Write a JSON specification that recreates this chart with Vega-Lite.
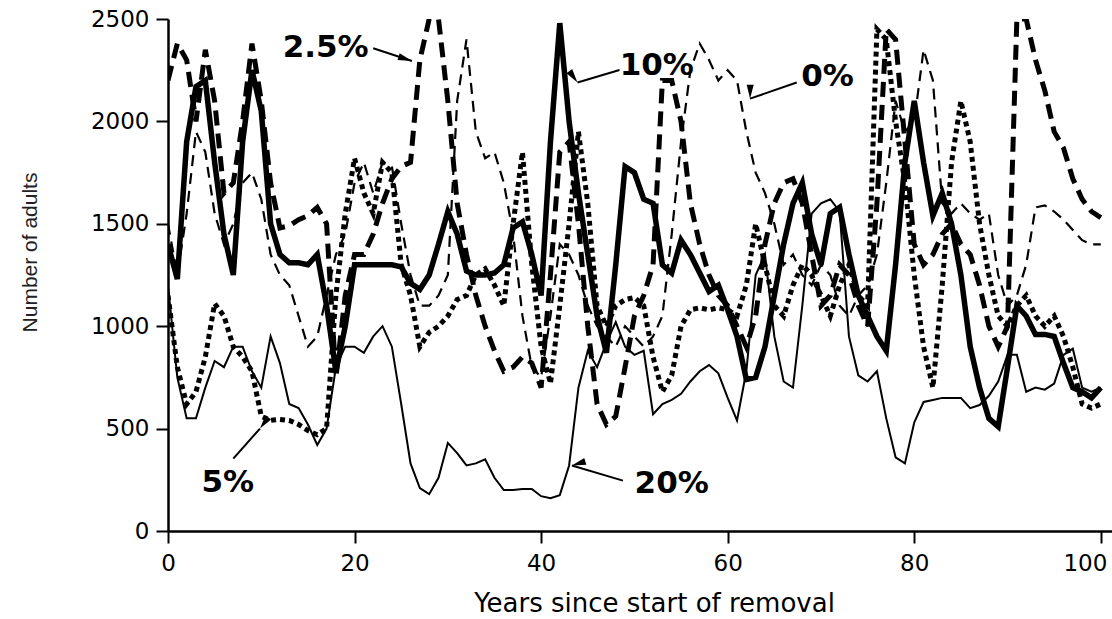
{
  "$schema": "https://vega.github.io/schema/vega-lite/v6.json",
  "width": 944,
  "height": 512,
  "autosize": {"type": "none"},
  "padding": {"left": 168, "top": 19, "right": 0, "bottom": 88},
  "background": "white",
  "config": {"view": {"stroke": null}, "font": "DejaVu Sans"},
  "datasets": {
    "runs": [
      {"yr":0,"r0":1500,"r25":2200,"r5":1150,"r10":1400,"r20":1200},
      {"yr":1,"r0":1250,"r25":2380,"r5":800,"r10":1230,"r20":750},
      {"yr":2,"r0":1550,"r25":2300,"r5":620,"r10":1900,"r20":550},
      {"yr":3,"r0":1950,"r25":2000,"r5":680,"r10":2170,"r20":550},
      {"yr":4,"r0":1850,"r25":2350,"r5":850,"r10":2200,"r20":700},
      {"yr":5,"r0":1550,"r25":2100,"r5":1110,"r10":1800,"r20":830},
      {"yr":6,"r0":1400,"r25":1650,"r5":1050,"r10":1450,"r20":800},
      {"yr":7,"r0":1500,"r25":1700,"r5":900,"r10":1250,"r20":900},
      {"yr":8,"r0":1700,"r25":2000,"r5":850,"r10":1900,"r20":900},
      {"yr":9,"r0":1750,"r25":2380,"r5":780,"r10":2250,"r20":780},
      {"yr":10,"r0":1620,"r25":2100,"r5":560,"r10":2050,"r20":700},
      {"yr":11,"r0":1350,"r25":1700,"r5":540,"r10":1500,"r20":950},
      {"yr":12,"r0":1250,"r25":1480,"r5":545,"r10":1350,"r20":820},
      {"yr":13,"r0":1200,"r25":1490,"r5":540,"r10":1310,"r20":620},
      {"yr":14,"r0":1050,"r25":1520,"r5":520,"r10":1310,"r20":600},
      {"yr":15,"r0":900,"r25":1540,"r5":490,"r10":1300,"r20":520},
      {"yr":16,"r0":950,"r25":1580,"r5":470,"r10":1350,"r20":420},
      {"yr":17,"r0":1150,"r25":1500,"r5":500,"r10":1100,"r20":500},
      {"yr":18,"r0":1350,"r25":750,"r5":1150,"r10":780,"r20":800},
      {"yr":19,"r0":1450,"r25":1150,"r5":1550,"r10":1000,"r20":900},
      {"yr":20,"r0":1700,"r25":1350,"r5":1820,"r10":1300,"r20":900},
      {"yr":21,"r0":1800,"r25":1350,"r5":1650,"r10":1300,"r20":870},
      {"yr":22,"r0":1650,"r25":1450,"r5":1550,"r10":1300,"r20":950},
      {"yr":23,"r0":1800,"r25":1600,"r5":1800,"r10":1300,"r20":1000},
      {"yr":24,"r0":1780,"r25":1720,"r5":1750,"r10":1300,"r20":900},
      {"yr":25,"r0":1500,"r25":1780,"r5":1300,"r10":1290,"r20":620},
      {"yr":26,"r0":1250,"r25":1800,"r5":1150,"r10":1210,"r20":330},
      {"yr":27,"r0":1100,"r25":2300,"r5":900,"r10":1180,"r20":210},
      {"yr":28,"r0":1100,"r25":2500,"r5":970,"r10":1250,"r20":180},
      {"yr":29,"r0":1150,"r25":2500,"r5":1000,"r10":1400,"r20":260},
      {"yr":30,"r0":1250,"r25":2100,"r5":1050,"r10":1560,"r20":430},
      {"yr":31,"r0":2100,"r25":1600,"r5":1130,"r10":1450,"r20":380},
      {"yr":32,"r0":2400,"r25":1350,"r5":1150,"r10":1270,"r20":320},
      {"yr":33,"r0":1950,"r25":1150,"r5":1250,"r10":1250,"r20":330},
      {"yr":34,"r0":1820,"r25":1000,"r5":1280,"r10":1250,"r20":350},
      {"yr":35,"r0":1850,"r25":880,"r5":1200,"r10":1260,"r20":260},
      {"yr":36,"r0":1700,"r25":780,"r5":1100,"r10":1300,"r20":200},
      {"yr":37,"r0":1450,"r25":800,"r5":1500,"r10":1480,"r20":200},
      {"yr":38,"r0":1050,"r25":850,"r5":1850,"r10":1510,"r20":205},
      {"yr":39,"r0":800,"r25":820,"r5":1300,"r10":1350,"r20":205},
      {"yr":40,"r0":750,"r25":700,"r5":900,"r10":1150,"r20":170},
      {"yr":41,"r0":1050,"r25":1250,"r5":720,"r10":1900,"r20":160},
      {"yr":42,"r0":1400,"r25":1850,"r5":1100,"r10":2480,"r20":175},
      {"yr":43,"r0":1350,"r25":1900,"r5":1500,"r10":2000,"r20":320},
      {"yr":44,"r0":1250,"r25":1500,"r5":1950,"r10":1650,"r20":700},
      {"yr":45,"r0":1100,"r25":1000,"r5":1600,"r10":1350,"r20":880},
      {"yr":46,"r0":1000,"r25":620,"r5":1100,"r10":1050,"r20":800},
      {"yr":47,"r0":950,"r25":520,"r5":1000,"r10":870,"r20":920},
      {"yr":48,"r0":900,"r25":560,"r5":1100,"r10":1300,"r20":1020},
      {"yr":49,"r0":1000,"r25":800,"r5":1130,"r10":1780,"r20":900},
      {"yr":50,"r0":950,"r25":1050,"r5":1140,"r10":1750,"r20":860},
      {"yr":51,"r0":900,"r25":1150,"r5":1100,"r10":1620,"r20":880},
      {"yr":52,"r0":950,"r25":1300,"r5":850,"r10":1600,"r20":570},
      {"yr":53,"r0":1050,"r25":2200,"r5":680,"r10":1300,"r20":620},
      {"yr":54,"r0":1450,"r25":2200,"r5":760,"r10":1260,"r20":640},
      {"yr":55,"r0":1900,"r25":2000,"r5":1000,"r10":1420,"r20":670},
      {"yr":56,"r0":2250,"r25":1600,"r5":1080,"r10":1350,"r20":730},
      {"yr":57,"r0":2380,"r25":1400,"r5":1090,"r10":1260,"r20":780},
      {"yr":58,"r0":2300,"r25":1250,"r5":1080,"r10":1170,"r20":810},
      {"yr":59,"r0":2200,"r25":1150,"r5":1090,"r10":1200,"r20":770},
      {"yr":60,"r0":2250,"r25":1100,"r5":1080,"r10":1080,"r20":650},
      {"yr":61,"r0":2200,"r25":1000,"r5":1050,"r10":950,"r20":540},
      {"yr":62,"r0":1950,"r25":900,"r5":1200,"r10":740,"r20":780},
      {"yr":63,"r0":1750,"r25":1050,"r5":1500,"r10":750,"r20":1250},
      {"yr":64,"r0":1650,"r25":1400,"r5":1300,"r10":900,"r20":1350},
      {"yr":65,"r0":1500,"r25":1600,"r5":1100,"r10":1150,"r20":950},
      {"yr":66,"r0":1300,"r25":1700,"r5":1050,"r10":1400,"r20":730},
      {"yr":67,"r0":1350,"r25":1720,"r5":1200,"r10":1600,"r20":700},
      {"yr":68,"r0":1250,"r25":1600,"r5":1300,"r10":1700,"r20":1100},
      {"yr":69,"r0":1200,"r25":1350,"r5":1250,"r10":1450,"r20":1550},
      {"yr":70,"r0":1300,"r25":1100,"r5":1150,"r10":1300,"r20":1600},
      {"yr":71,"r0":1250,"r25":1150,"r5":1050,"r10":1550,"r20":1620},
      {"yr":72,"r0":1100,"r25":1300,"r5":1200,"r10":1580,"r20":1560},
      {"yr":73,"r0":1050,"r25":1250,"r5":1300,"r10":1350,"r20":950},
      {"yr":74,"r0":1150,"r25":1100,"r5":1150,"r10":1150,"r20":760},
      {"yr":75,"r0":1200,"r25":1000,"r5":1100,"r10":1050,"r20":730},
      {"yr":76,"r0":1350,"r25":1600,"r5":2450,"r10":950,"r20":780},
      {"yr":77,"r0":1700,"r25":2450,"r5":2400,"r10":880,"r20":550},
      {"yr":78,"r0":2100,"r25":2400,"r5":2000,"r10":1300,"r20":360},
      {"yr":79,"r0":1950,"r25":1900,"r5":1700,"r10":1800,"r20":330},
      {"yr":80,"r0":2000,"r25":1400,"r5":1250,"r10":2100,"r20":530},
      {"yr":81,"r0":2350,"r25":1300,"r5":900,"r10":1800,"r20":630},
      {"yr":82,"r0":2200,"r25":1350,"r5":700,"r10":1540,"r20":640},
      {"yr":83,"r0":1600,"r25":1450,"r5":1200,"r10":1650,"r20":650},
      {"yr":84,"r0":1550,"r25":1500,"r5":1800,"r10":1500,"r20":650},
      {"yr":85,"r0":1600,"r25":1400,"r5":2100,"r10":1250,"r20":650},
      {"yr":86,"r0":1550,"r25":1350,"r5":1900,"r10":900,"r20":600},
      {"yr":87,"r0":1520,"r25":1200,"r5":1500,"r10":700,"r20":615},
      {"yr":88,"r0":1550,"r25":1000,"r5":1250,"r10":550,"r20":660},
      {"yr":89,"r0":1250,"r25":900,"r5":1050,"r10":510,"r20":730},
      {"yr":90,"r0":1100,"r25":1000,"r5":1000,"r10":800,"r20":860},
      {"yr":91,"r0":1150,"r25":2500,"r5":1100,"r10":1100,"r20":860},
      {"yr":92,"r0":1300,"r25":2500,"r5":1150,"r10":1050,"r20":680},
      {"yr":93,"r0":1580,"r25":2300,"r5":1050,"r10":960,"r20":700},
      {"yr":94,"r0":1590,"r25":2150,"r5":1000,"r10":960,"r20":690},
      {"yr":95,"r0":1560,"r25":1950,"r5":1050,"r10":950,"r20":720},
      {"yr":96,"r0":1520,"r25":1870,"r5":950,"r10":820,"r20":860},
      {"yr":97,"r0":1470,"r25":1720,"r5":800,"r10":700,"r20":890},
      {"yr":98,"r0":1420,"r25":1620,"r5":620,"r10":680,"r20":700},
      {"yr":99,"r0":1400,"r25":1560,"r5":600,"r10":650,"r20":680},
      {"yr":100,"r0":1400,"r25":1530,"r5":620,"r10":700,"r20":700}
    ],
    "labels": [
      {"label":"2.5%","yr":16.9,"v":2357},
      {"label":"10%","yr":52.4,"v":2269},
      {"label":"0%","yr":70.7,"v":2215},
      {"label":"5%","yr":6.4,"v":236},
      {"label":"20%","yr":54.0,"v":231}
    ],
    "arrows": [
      {"label":"2.5%","yr":26.15,"v":2295,"yr2":22.0,"v2":2357},
      {"label":"10%","yr":43.9,"v":2190,"yr2":48.4,"v2":2251},
      {"label":"0%","yr":62.4,"v":2111,"yr2":67.4,"v2":2190},
      {"label":"5%","yr":9.86,"v":500,"yr2":7.0,"v2":353},
      {"label":"20%","yr":43.3,"v":320,"yr2":48.77,"v2":246}
    ]
  },
  "encoding": {
    "x": {
      "field": "yr", "type": "quantitative",
      "scale": {"domain": [0, 101.2], "nice": false, "zero": false},
      "axis": {
        "values": [0, 20, 40, 60, 80, 100], "format": "d",
        "title": "Years since start of removal",
        "grid": false, "tickSize": 12, "tickWidth": 2, "tickColor": "black",
        "domainColor": "black", "domainWidth": 2.5,
        "labelFont": "DejaVu Sans", "labelFontSize": 23, "labelColor": "black", "labelPadding": 9,
        "labelFlush": false, "labelOverlap": false,
        "labelAlign": {"condition": {"test": "datum.value >= 100", "value": "right"}, "value": "center"},
        "labelOffset": {"condition": {"test": "datum.value >= 100", "value": 6}, "value": 0},
        "titleFont": "DejaVu Sans", "titleFontSize": 26, "titleFontWeight": "normal", "titleColor": "black",
        "titleX": 486, "titleY": 72, "titleBaseline": "middle", "titleAlign": "center"
      }
    },
    "y": {
      "field": "v", "type": "quantitative",
      "scale": {"domain": [0, 2500], "nice": false, "zero": false},
      "axis": {
        "values": [0, 500, 1000, 1500, 2000, 2500], "format": "d",
        "title": "Number of adults",
        "grid": false, "tickSize": 12, "tickWidth": 2, "tickColor": "black",
        "domainColor": "black", "domainWidth": 2.5,
        "labelFont": "DejaVu Sans", "labelFontSize": 23, "labelColor": "black", "labelPadding": 7,
        "labelFlush": false, "labelOverlap": false,
        "titleFont": "Liberation Sans", "titleFontSize": 21, "titleFontWeight": "normal", "titleColor": "#222",
        "titleX": -138, "titleY": 233, "titleAngle": 270, "titleBaseline": "middle", "titleAlign": "center"
      }
    }
  },
  "layer": [
    {
      "data": {"name": "runs"},
      "transform": [{"fold": ["r0"], "as": ["s", "v"]}],
      "mark": {"type": "line", "color": "black", "strokeWidth": 2.2, "strokeDash": [11, 7], "clip": true}
    },
    {
      "data": {"name": "runs"},
      "transform": [{"fold": ["r25"], "as": ["s", "v"]}],
      "mark": {"type": "line", "color": "black", "strokeWidth": 5, "strokeDash": [15, 8], "clip": true}
    },
    {
      "data": {"name": "runs"},
      "transform": [{"fold": ["r5"], "as": ["s", "v"]}],
      "mark": {"type": "line", "color": "black", "strokeWidth": 5, "strokeDash": [5, 4], "clip": true}
    },
    {
      "data": {"name": "runs"},
      "transform": [{"fold": ["r10"], "as": ["s", "v"]}],
      "mark": {"type": "line", "color": "black", "strokeWidth": 5.5, "clip": true}
    },
    {
      "data": {"name": "runs"},
      "transform": [{"fold": ["r20"], "as": ["s", "v"]}],
      "mark": {"type": "line", "color": "black", "strokeWidth": 2, "clip": true}
    },
    {
      "data": {"values": [{}]},
      "mark": {"type": "rule", "color": "black", "strokeWidth": 2.5},
      "encoding": {
        "x": {"datum": 0, "type": "quantitative", "scale": {"domain": [0, 101.2], "nice": false, "zero": false}},
        "x2": {"datum": 101.2},
        "y": {"datum": 2500, "type": "quantitative", "scale": {"domain": [0, 2500], "nice": false, "zero": false}}
      }
    },
    {
      "data": {"name": "arrows"},
      "mark": {"type": "rule", "color": "black", "strokeWidth": 2},
      "encoding": {
        "x2": {"field": "yr2"},
        "y2": {"field": "v2"}
      }
    },
    {
      "data": {"name": "arrows"},
      "mark": {"type": "point", "shape": "M0,0L0.5,2L-0.5,2Z", "filled": true, "color": "black", "opacity": 1, "size": 196},
      "encoding": {
        "angle": {"field": "label", "type": "nominal", "legend": null,
          "scale": {"domain": ["2.5%", "10%", "0%", "5%", "20%"], "range": [108, 253, 251, 42, 286]}}
      }
    },
    {
      "data": {"name": "labels"},
      "mark": {"type": "text", "font": "DejaVu Sans", "fontWeight": "bold", "fontSize": 31, "align": "center", "baseline": "middle", "color": "black"},
      "encoding": {
        "text": {"field": "label"}
      }
    }
  ]
}
